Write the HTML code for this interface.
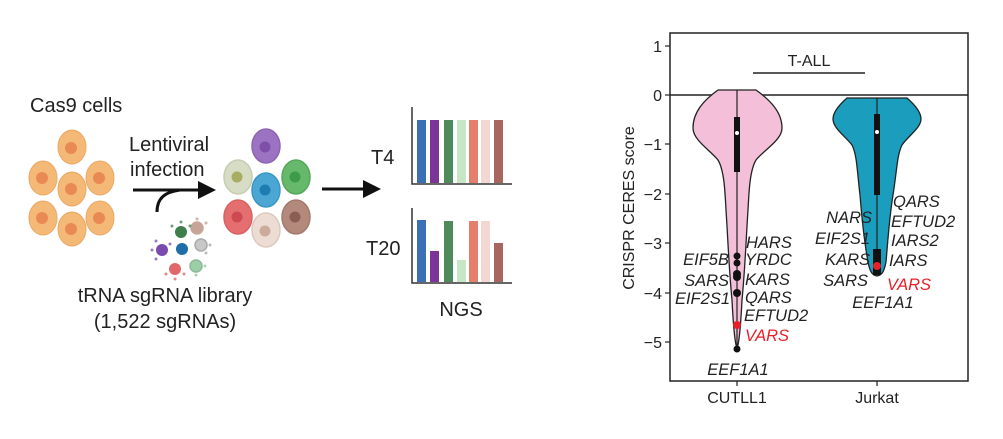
<!DOCTYPE html>
<html><head><style>
html,body{margin:0;padding:0;background:#fff;}
svg text{font-family:"Liberation Sans",sans-serif;}
</style></head><body>
<svg width="1003" height="434" viewBox="0 0 1003 434" xmlns="http://www.w3.org/2000/svg">
<rect width="1003" height="434" fill="#fff"/>
<!-- Cas9 cells -->
<text x="30" y="112" font-size="20" fill="#222">Cas9 cells</text>
<g fill="#f4b977" stroke="#eba865" stroke-width="1">
<ellipse cx="72" cy="147" rx="14" ry="17"/>
<ellipse cx="43" cy="178" rx="14" ry="17"/>
<ellipse cx="72" cy="189" rx="14" ry="17"/>
<ellipse cx="100" cy="178" rx="14" ry="17"/>
<ellipse cx="43" cy="218" rx="14" ry="17"/>
<ellipse cx="72" cy="229" rx="14" ry="17"/>
<ellipse cx="100" cy="218" rx="14" ry="17"/>
</g>
<g fill="#e98a52">
<circle cx="71" cy="148" r="6"/><circle cx="42" cy="178" r="6"/><circle cx="71" cy="189" r="6"/>
<circle cx="99" cy="178" r="6"/><circle cx="42" cy="218" r="6"/><circle cx="71" cy="229" r="6"/><circle cx="99" cy="218" r="6"/>
</g>
<text x="129" y="151" font-size="20" fill="#222">Lentiviral</text>
<text x="130" y="176" font-size="20" fill="#222">infection</text>
<line x1="133" y1="190" x2="200" y2="190" stroke="#111" stroke-width="3"/>
<polygon points="198,181 216,190 198,199" fill="#111"/>
<path d="M157,212 C157,198 165,192 180,190" fill="none" stroke="#111" stroke-width="3"/>
<!-- viruses -->
<g stroke-width="1.5">
<g stroke="#8fb89a" fill="#9ccfa6"><circle cx="196" cy="266" r="6"/></g>
<g stroke="#aaa" fill="#c8c8c8"><circle cx="201" cy="245" r="6"/></g>
<g stroke="#c9a89a" fill="#c6a597"><circle cx="197" cy="228" r="6"/></g>
<g fill="#3f7f4b"><circle cx="181" cy="232" r="6"/></g>
<g fill="#7a4ab0"><circle cx="162" cy="250" r="6"/></g>
<g fill="#1e6ca8"><circle cx="182" cy="249" r="6"/></g>
<g fill="#e0686a"><circle cx="175" cy="269" r="6"/></g>
</g>
<g fill="#9a7bc8"><circle cx="152" cy="250" r="1.5"/><circle cx="156" cy="241" r="1.5"/><circle cx="156" cy="259" r="1.5"/><circle cx="170" cy="244" r="1.5"/></g>
<g fill="#e08a8a"><circle cx="166" cy="274" r="1.5"/><circle cx="175" cy="279" r="1.5"/><circle cx="184" cy="274" r="1.5"/></g>
<g fill="#6aa07a"><circle cx="172" cy="226" r="1.5"/><circle cx="181" cy="222" r="1.5"/><circle cx="190" cy="226" r="1.5"/></g>
<g fill="#d0b2a6"><circle cx="206" cy="223" r="1.5"/><circle cx="197" cy="219" r="1.5"/></g>
<g fill="#bbb"><circle cx="210" cy="245" r="1.5"/><circle cx="206" cy="253" r="1.5"/></g>
<g fill="#a8d6b0"><circle cx="205" cy="266" r="1.5"/><circle cx="196" cy="275" r="1.5"/></g>
<text x="165" y="302" font-size="20" fill="#222" text-anchor="middle">tRNA sgRNA library</text>
<text x="165" y="328" font-size="20" fill="#222" text-anchor="middle">(1,522 sgRNAs)</text>
<!-- infected cells -->
<g stroke-width="1.5">
<ellipse cx="266" cy="146" rx="14" ry="17" fill="#9b73c2" stroke="#8c64b4"/>
<ellipse cx="238" cy="177" rx="14" ry="17" fill="#d7dcc4" stroke="#c6cdb0"/>
<ellipse cx="266" cy="190" rx="14" ry="17" fill="#4ba6d3" stroke="#3a96c5"/>
<ellipse cx="296" cy="177" rx="14" ry="17" fill="#66b86a" stroke="#55a85a"/>
<ellipse cx="238" cy="217" rx="14" ry="17" fill="#e56f70" stroke="#d86060"/>
<ellipse cx="266" cy="230" rx="14" ry="17" fill="#ecdcd3" stroke="#ddc8bd"/>
<ellipse cx="296" cy="217" rx="14" ry="17" fill="#b3897c" stroke="#a27a6d"/>
</g>
<g>
<circle cx="265" cy="147" r="5.5" fill="#7f4fa8"/><circle cx="237" cy="177" r="5.5" fill="#a7ad62"/>
<circle cx="265" cy="190" r="5.5" fill="#1f7cb0"/><circle cx="295" cy="177" r="5.5" fill="#3e9c48"/>
<circle cx="237" cy="217" r="5.5" fill="#cc4a50"/><circle cx="265" cy="231" r="5.5" fill="#cdab9c"/>
<circle cx="295" cy="217" r="5.5" fill="#8a5e52"/>
</g>
<line x1="322" y1="189" x2="365" y2="189" stroke="#111" stroke-width="3"/>
<polygon points="363,180 381,189 363,198" fill="#111"/>
<!-- NGS bars -->
<text x="371" y="164" font-size="20" fill="#222">T4</text>
<text x="366" y="255" font-size="20" fill="#222">T20</text>
<g stroke="#333" stroke-width="1.5" fill="none">
<polyline points="412,107 412,184 512,184"/>
<polyline points="412,208 412,283 512,283"/>
</g>
<g>
<rect x="417" y="120" width="9" height="63" fill="#3b6fb6"/>
<rect x="430" y="120" width="9" height="63" fill="#7b3596"/>
<rect x="444" y="120" width="9" height="63" fill="#4e8a5a"/>
<rect x="457" y="120" width="9" height="63" fill="#c6e6c6"/>
<rect x="469" y="120" width="9" height="63" fill="#e57f6c"/>
<rect x="481" y="120" width="9" height="63" fill="#f2d7d2"/>
<rect x="494" y="120" width="9" height="63" fill="#a8675e"/>
<rect x="417" y="220" width="9" height="62" fill="#3b6fb6"/>
<rect x="430" y="251" width="9" height="31" fill="#7b3596"/>
<rect x="444" y="221" width="9" height="61" fill="#4e8a5a"/>
<rect x="457" y="260" width="9" height="22" fill="#c6e6c6"/>
<rect x="469" y="221" width="9" height="61" fill="#e57f6c"/>
<rect x="481" y="221" width="9" height="61" fill="#f2d7d2"/>
<rect x="494" y="243" width="9" height="39" fill="#a8675e"/>
</g>
<text x="461" y="316" font-size="20" fill="#222" text-anchor="middle">NGS</text>
<!-- violin plot -->
<rect x="670" y="33" width="298" height="348" fill="none" stroke="#222" stroke-width="1.5"/>
<line x1="670" y1="95" x2="968" y2="95" stroke="#222" stroke-width="1.5"/>
<g stroke="#222" stroke-width="1.2">
<line x1="665" y1="46" x2="670" y2="46"/><line x1="665" y1="95" x2="670" y2="95"/>
<line x1="665" y1="144" x2="670" y2="144"/><line x1="665" y1="194" x2="670" y2="194"/>
<line x1="665" y1="243" x2="670" y2="243"/><line x1="665" y1="293" x2="670" y2="293"/>
<line x1="665" y1="342" x2="670" y2="342"/>
<line x1="737" y1="381" x2="737" y2="386"/><line x1="877" y1="381" x2="877" y2="386"/>
</g>
<g font-size="16" fill="#222" text-anchor="end">
<text x="662" y="52">1</text><text x="662" y="101">0</text><text x="662" y="150">−1</text>
<text x="662" y="200">−2</text><text x="662" y="249">−3</text><text x="662" y="299">−4</text><text x="662" y="348">−5</text>
</g>
<text x="737" y="403" font-size="16" fill="#222" text-anchor="middle">CUTLL1</text>
<text x="877" y="403" font-size="16" fill="#222" text-anchor="middle">Jurkat</text>
<text transform="translate(634,208) rotate(-90)" font-size="16" fill="#222" text-anchor="middle">CRISPR CERES score</text>
<text x="809" y="66" font-size="16" fill="#222" text-anchor="middle">T-ALL</text>
<line x1="753" y1="73" x2="865" y2="73" stroke="#222" stroke-width="1.5"/>
<!-- CUTLL1 violin -->
<path d="M718,90 L756,90 C770,100 782,112 782,128 C782,140 764,150 756,160 C750,170 749,190 748,210 C746,240 745,270 742,300 C741,320 740,335 738,345 L736,345 C734,335 733,320 732,300 C729,270 728,240 726,210 C725,190 724,170 718,160 C710,150 693,140 693,128 C693,112 704,100 718,90 Z" fill="#f4c0d9" stroke="#222" stroke-width="1.3"/>
<line x1="737" y1="90" x2="737" y2="350" stroke="#222" stroke-width="1.2"/>
<rect x="734" y="117" width="6" height="55" fill="#111"/>
<circle cx="737" cy="133" r="2" fill="#fff"/>
<g fill="#111"><circle cx="737" cy="256" r="3.5"/><circle cx="737" cy="263" r="3.5"/><circle cx="737" cy="274" r="4"/><circle cx="737" cy="277" r="4"/><circle cx="737" cy="293" r="4"/><circle cx="737" cy="349" r="3.5"/></g>
<circle cx="737" cy="325" r="4" fill="#e8202a"/>
<g font-size="16.5" fill="#222" font-style="italic">
<text x="746" y="248">HARS</text><text x="745" y="265">YRDC</text><text x="745" y="285">KARS</text>
<text x="745" y="303">QARS</text><text x="744" y="321">EFTUD2</text>
<text x="729" y="265" text-anchor="end">EIF5B</text><text x="729" y="286" text-anchor="end">SARS</text><text x="730" y="304" text-anchor="end">EIF2S1</text>
<text x="738" y="375" text-anchor="middle">EEF1A1</text>
</g>
<text x="745" y="341" font-size="16.5" fill="#e8202a" font-style="italic">VARS</text>
<!-- Jurkat violin -->
<path d="M847,98 L907,98 C915,105 921,112 921,119 C921,128 908,136 902,145 C897,155 897,170 893,195 C889,220 888,240 886,262 C884,272 882,275 877,276 C872,275 870,272 868,262 C864,240 862,220 860,195 C857,170 857,155 852,145 C845,136 833,128 833,119 C833,112 839,105 847,98 Z" fill="#1b9ebd" stroke="#222" stroke-width="1.3"/>
<line x1="877" y1="98" x2="877" y2="272" stroke="#222" stroke-width="1.2"/>
<rect x="874" y="114" width="6" height="81" fill="#111"/>
<rect x="873" y="249" width="8" height="26" fill="#111"/>
<circle cx="877" cy="132" r="2" fill="#fff"/>
<circle cx="877" cy="266" r="4" fill="#e8202a"/>
<g font-size="16.5" fill="#222" font-style="italic">
<text x="893" y="207">QARS</text><text x="891" y="227">EFTUD2</text><text x="891" y="246">IARS2</text><text x="889" y="266">IARS</text>
<text x="872" y="223" text-anchor="end">NARS</text><text x="870" y="244" text-anchor="end">EIF2S1</text>
<text x="870" y="265" text-anchor="end">KARS</text><text x="868" y="286" text-anchor="end">SARS</text>
<text x="883" y="308" text-anchor="middle">EEF1A1</text>
</g>
<text x="887" y="290" font-size="16.5" fill="#e8202a" font-style="italic">VARS</text>
</svg>
</body></html>
